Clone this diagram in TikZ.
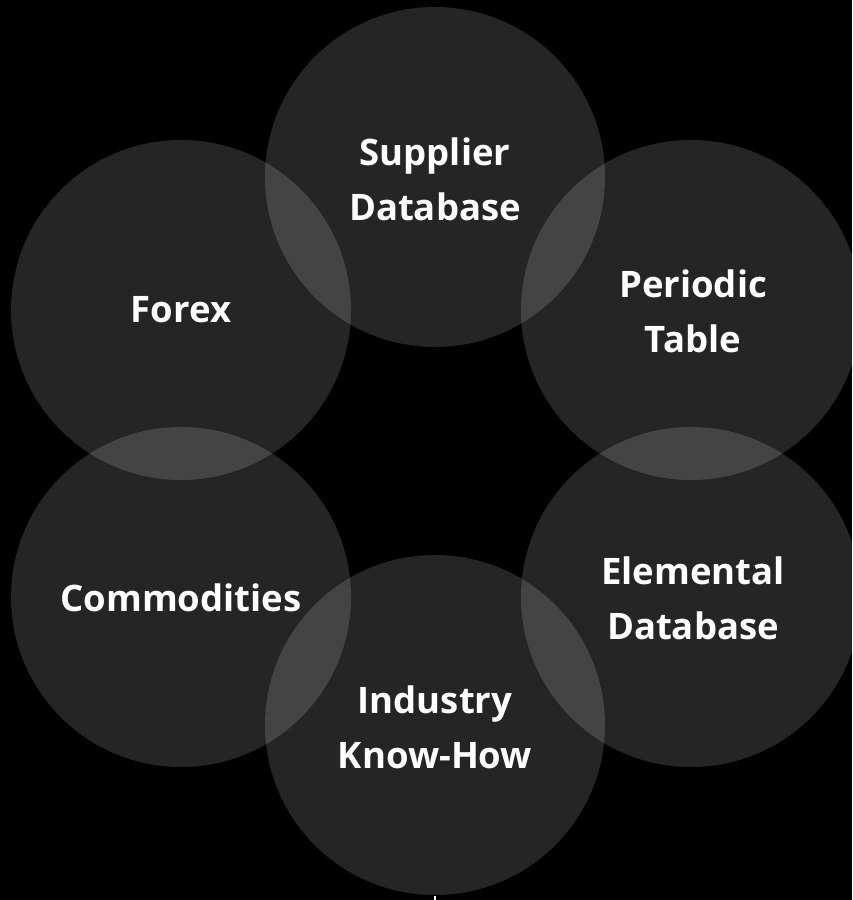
\documentclass[tikz,border=0pt]{standalone}
\usepackage{fontspec}
\setmainfont{Open Sans}
\begin{document}
\begin{tikzpicture}[x=1pt,y=-1pt,
  bubble/.style={circle,minimum size=340pt,inner sep=0pt,fill=white,fill opacity=0.145},
  label/.style={text=white,font=\fontsize{36.5}{55}\selectfont\bfseries,align=center}]
\fill[black] (0,0) rectangle (852,900);
\useasboundingbox (0,0) rectangle (852,900);
\node[bubble] (sup) at (435,177) {};
\node[bubble] (forex) at (181,310) {};
\node[bubble] (per) at (691,310) {};
\node[bubble] (com) at (181,597) {};
\node[bubble] (ele) at (691,597) {};
\node[bubble] (ind) at (435,725) {};
\node[label] (tsup) at (435,179) {Supplier\\Database};
\node[label] (tforex) at (181,310) {Forex};
\node[label] (tper) at (693,311) {Periodic\\Table};
\node[label] (tcom) at (181,598) {Commodities};
\node[label] (tele) at (693,598) {Elemental\\Database};
\node[label] (tind) at (435,727) {Industry\\Know-How};
\fill[white] (434,896) rectangle (436,900);
\end{tikzpicture}
\end{document}
